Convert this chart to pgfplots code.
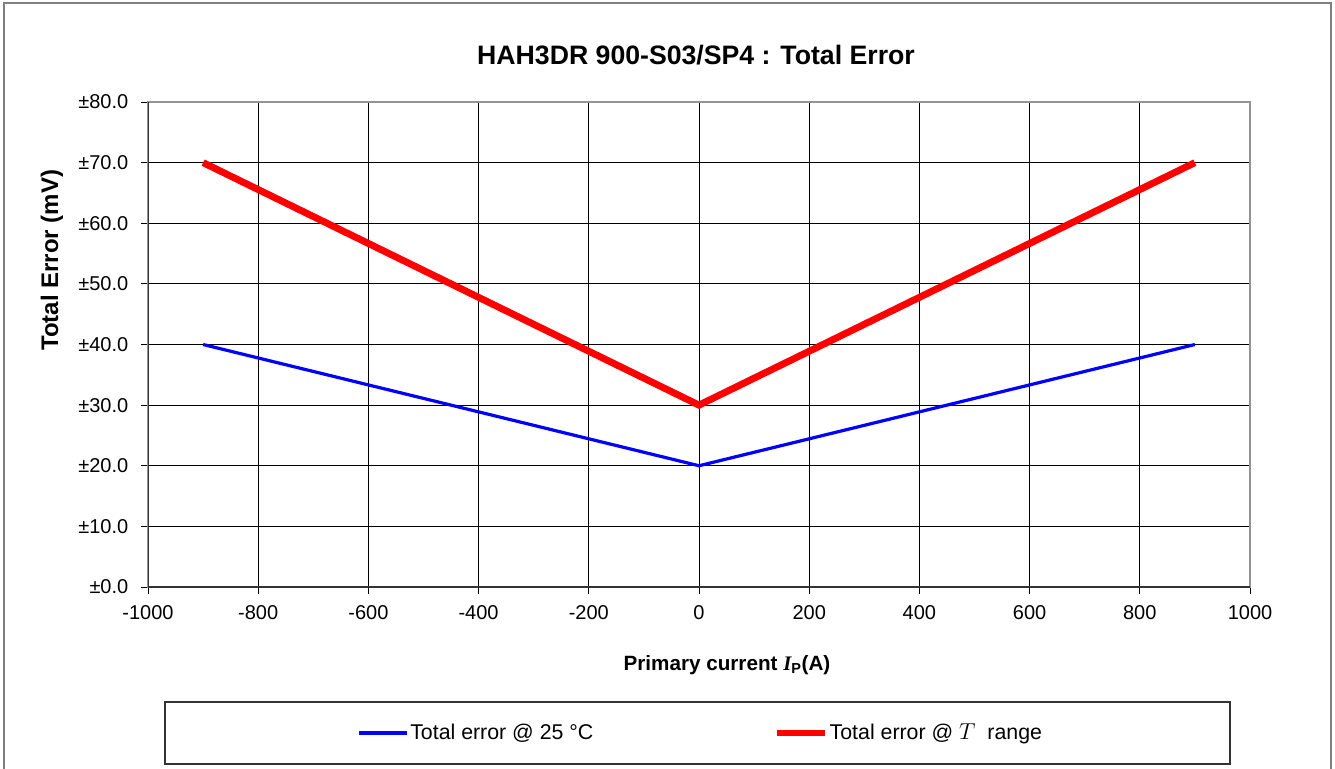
\documentclass[border=0pt]{standalone}
\usepackage{fontspec}
\setmainfont{Liberation Sans}
\newfontfamily\serifI{Liberation Serif}
\usepackage{pgfplots}
\pgfplotsset{compat=1.18}
\begin{document}
\begin{tikzpicture}
\useasboundingbox (0,0) rectangle (1001.25pt,576pt);
\begin{axis}[
  at={(111pt,135.75pt)}, anchor=south west,
  scale only axis, width=826.5pt, height=363.75pt,
  xmin=-1000, xmax=1000, ymin=0, ymax=80,
  xtick={-1000,-800,...,1000},
  xticklabels={-1000,-800,-600,-400,-200,0,200,400,600,800,1000},
  ytick={0,10,...,80},
  yticklabels={±0.0,±10.0,±20.0,±30.0,±40.0,±50.0,±60.0,±70.0,±80.0},
  xtick pos=bottom, ytick pos=left,
  tick align=outside, major tick length=5.25pt,
  tick style={black, line width=0.75pt},
  grid=major, major grid style={black, line width=0.75pt},
  axis line style={gray!85, line width=1.6pt},
  ticklabel style={font=\fontsize{15}{18}\selectfont},
  yticklabel style={xshift=-6pt},
  xticklabel style={yshift=-5pt},
  title={\bfseries HAH3DR 900-S03/SP4 : Total Error},
  title style={font=\fontsize{20}{23}\selectfont, at={(axis description cs:0.4973,1.08)}, anchor=center},
  ylabel={\bfseries Total Error (mV)},
  ylabel style={font=\fontsize{18}{21}\selectfont, at={(axis description cs:-0.0871,0.674)}, anchor=center, rotate=0},
  xlabel={\bfseries Primary current {\serifI\bfseries\itshape I}\textsubscript{P}(A)},
  xlabel style={font=\fontsize{15.5}{18}\selectfont, at={(axis description cs:0.5254,-0.161)}, anchor=center},
  legend style={draw=none, fill=none, at={(axis description cs:0.5014,-0.301)}, anchor=center,
    legend columns=2, font=\fontsize{16}{19}\selectfont,
    nodes={inner sep=1pt},
    /tikz/every even column/.append style={column sep=134pt}},
  legend image code/.code={\draw[#1] (0pt,0pt) -- (36pt,0pt);},
  legend cell align=left,
]
\draw[black!80, line width=1.6pt] (rel axis cs:0,1) -- (rel axis cs:0,0) -- (rel axis cs:1,0);
\addplot[color={rgb,255:red,0;green,0;blue,255}, line width=2.4pt] coordinates {(-900,40) (0,20) (900,40)};
\addlegendentry{Total error @ 25 °C}
\addplot[color={rgb,255:red,255;green,0;blue,0}, line width=5.2pt] coordinates {(-900,70) (0,30) (900,70)};
\addlegendentry{Total error @ $T$\ \ range}
\end{axis}
\draw[black!80, line width=1.2pt] (123.75pt,49.5pt) rectangle (922.5pt,3pt);
\draw[gray, line width=1pt] (3pt,573.75pt) rectangle (998.25pt,-5pt);
\end{tikzpicture}
\end{document}
